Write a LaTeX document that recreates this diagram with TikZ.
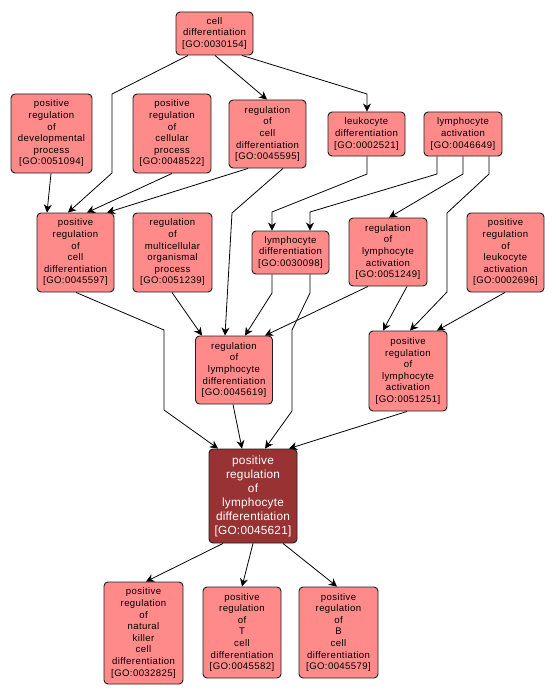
\documentclass[tikz,border=0pt]{standalone}
\usepackage{fontspec}
\setmainfont{Liberation Sans}
\newfontfamily\gofont[LetterSpace=4]{Liberation Sans}
\newfontfamily\gomainfont[LetterSpace=2]{Liberation Sans}
\usetikzlibrary{arrows.meta}
\definecolor{lightgo}{RGB}{255,138,138}
\definecolor{darkgo}{RGB}{153,51,51}
\definecolor{edgego}{RGB}{30,30,30}
\tikzset{
  gobox/.style={draw=edgego, line width=0.9pt, fill=lightgo, rounded corners=4pt,
    align=center, inner sep=0pt, font=\gofont\fontsize{9.6}{11.6}\selectfont, text=black},
  mainbox/.style={gobox, fill=darkgo, text=white, font=\gomainfont\fontsize{11.8}{14}\selectfont},
  arr/.style={draw=black, line width=0.8pt, -{Stealth[length=8pt,width=8pt,inset=2.5pt]}},
}
\begin{document}
\begin{tikzpicture}[x=1pt,y=-1pt]
\useasboundingbox (0,0) rectangle (555,698);
% nodes
\node[gobox, minimum width=77, minimum height=43] (cd) at (214.5,33.5) {cell\\differentiation\\{[GO:0030154]}};
\node[gobox, minimum width=81, minimum height=79] (pdev) at (51.5,133.5) {positive\\regulation\\of\\developmental\\process\\{[GO:0051094]}};
\node[gobox, minimum width=78, minimum height=79] (pcel) at (172,133.5) {positive\\regulation\\of\\cellular\\process\\{[GO:0048522]}};
\node[gobox, minimum width=77, minimum height=68] (rcd) at (267.5,134) {regulation\\of\\cell\\differentiation\\{[GO:0045595]}};
\node[gobox, minimum width=77, minimum height=44] (ld) at (366.5,134) {leukocyte\\differentiation\\{[GO:0002521]}};
\node[gobox, minimum width=78, minimum height=44] (la) at (463,134) {lymphocyte\\activation\\{[GO:0046649]}};
\node[gobox, minimum width=77, minimum height=79] (prcd) at (75.5,252.5) {positive\\regulation\\of\\cell\\differentiation\\{[GO:0045597]}};
\node[gobox, minimum width=79, minimum height=79] (rmo) at (172.5,252.5) {regulation\\of\\multicellular\\organismal\\process\\{[GO:0051239]}};
\node[gobox, minimum width=77, minimum height=43] (lyd) at (290.5,252.5) {lymphocyte\\differentiation\\{[GO:0030098]}};
\node[gobox, minimum width=78, minimum height=68] (rla) at (388,252) {regulation\\of\\lymphocyte\\activation\\{[GO:0051249]}};
\node[gobox, minimum width=77, minimum height=79] (pleuk) at (505.5,252.5) {positive\\regulation\\of\\leukocyte\\activation\\{[GO:0002696]}};
\node[gobox, minimum width=77, minimum height=68] (rld) at (234,370) {regulation\\of\\lymphocyte\\differentiation\\{[GO:0045619]}};
\node[gobox, minimum width=78, minimum height=80] (prla) at (408,371) {positive\\regulation\\of\\lymphocyte\\activation\\{[GO:0051251]}};
\node[mainbox, minimum width=88, minimum height=94] (central) at (253,496) {positive\\regulation\\of\\lymphocyte\\differentiation\\{[GO:0045621]}};
\node[gobox, minimum width=79, minimum height=102] (nk) at (143.5,633) {positive\\regulation\\of\\natural\\killer\\cell\\differentiation\\{[GO:0032825]}};
\node[gobox, minimum width=78, minimum height=91] (tc) at (242,632.5) {positive\\regulation\\of\\T\\cell\\differentiation\\{[GO:0045582]}};
\node[gobox, minimum width=79, minimum height=91] (bc) at (338.5,632.5) {positive\\regulation\\of\\B\\cell\\differentiation\\{[GO:0045579]}};
% edges
\draw[arr] (188,0 |- cd.south) -- (112,94) -- (112,173) -- (68,0 |- prcd.north);
\draw[arr] (215,0 |- cd.south) -- (267,0 |- rcd.north);
\draw[arr] (242,0 |- cd.south) -- (367,94) -- (367,0 |- ld.north);
\draw[arr] (51,0 |- pdev.south) -- (47,0 |- prcd.north);
\draw[arr] (172,0 |- pcel.south) -- (87,0 |- prcd.north);
\draw[arr] (248,0 |- rcd.south) -- (107,0 |- prcd.north);
\draw[arr] (283,0 |- rcd.south) -- (232,213) -- (225,0 |- rld.north);
\draw[arr] (367,0 |- ld.south) -- (367,174) -- (272,212) -- (272,0 |- lyd.north);
\draw[arr] (437,0 |- la.south) -- (437,174) -- (310,212) -- (310,0 |- lyd.north);
\draw[arr] (463,0 |- la.south) -- (463,174) -- (389,0 |- rla.north);
\draw[arr] (489,0 |- la.south) -- (489,174) -- (447,213) -- (447,292) -- (410,0 |- prla.north);
\draw[arr] (76,0 |- prcd.south) -- (164,330) -- (164,410) -- (218,0 |- central.north);
\draw[arr] (172,0 |- rmo.south) -- (202,0 |- rld.north);
\draw[arr] (272,0 |- lyd.south) -- (272,293) -- (245,0 |- rld.north);
\draw[arr] (310,0 |- lyd.south) -- (310,293) -- (292,330) -- (292,411) -- (265,0 |- central.north);
\draw[arr] (368,0 |- rla.south) -- (265,0 |- rld.north);
\draw[arr] (407,0 |- rla.south) -- (383,0 |- prla.north);
\draw[arr] (505,0 |- pleuk.south) -- (437,0 |- prla.north);
\draw[arr] (233,0 |- rld.south) -- (242,0 |- central.north);
\draw[arr] (407,0 |- prla.south) -- (289,0 |- central.north);
\draw[arr] (223,0 |- central.south) -- (146,0 |- nk.north);
\draw[arr] (253,0 |- central.south) -- (242,0 |- tc.north);
\draw[arr] (283,0 |- central.south) -- (337,0 |- bc.north);
\end{tikzpicture}
\end{document}
